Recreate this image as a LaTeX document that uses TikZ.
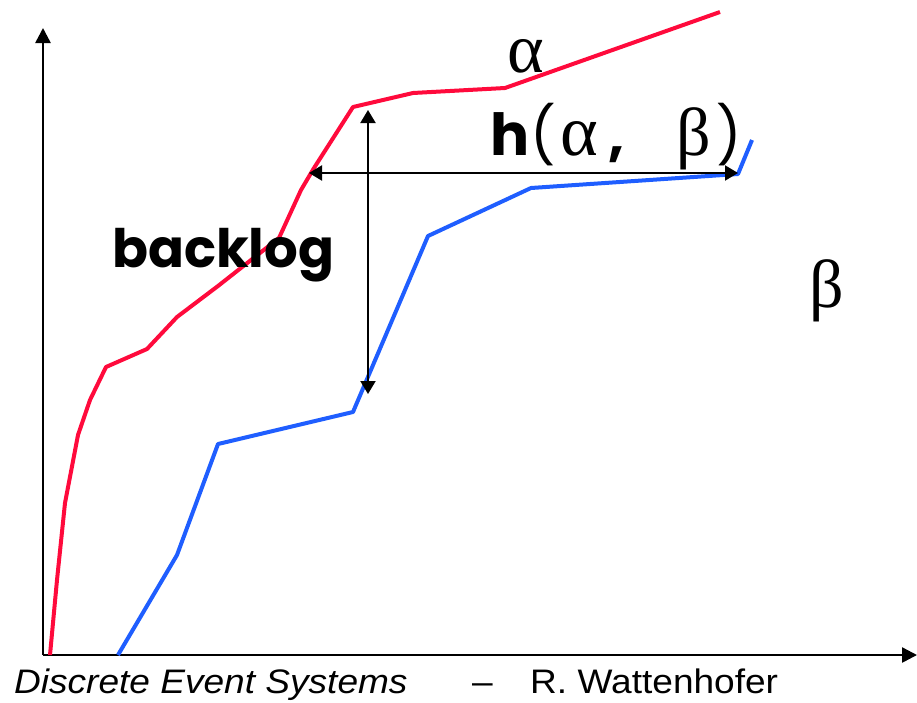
\documentclass[tikz,border=0pt]{standalone}
\usepackage{fontspec}
\setmainfont{Liberation Sans}
\newfontfamily\comicfont{Poppins}
\newfontfamily\greekfont{Liberation Serif}
\usetikzlibrary{arrows.meta}
\definecolor{curvered}{HTML}{FF0A3C}
\definecolor{curveblue}{HTML}{1F5EFF}

\begin{document}
\begin{tikzpicture}[
  x=1pt, y=-1pt,
  axis/.style={line width=2.5pt, -{Triangle[length=15pt,width=15pt]}},
  gap/.style={line width=2pt, {Triangle[length=13pt,width=15pt]}-{Triangle[length=13pt,width=15pt]}},
  curve/.style={line width=4pt, line join=round},
  comic/.style={font=\fontsize{53}{53}\comicfont\bfseries, inner sep=0pt},
  greek/.style={font=\fontsize{68}{68}\greekfont, inner sep=0pt},
  foot/.style={font=\fontsize{34}{34}\selectfont\addfontfeatures{FakeStretch=1.09}, anchor=base west, inner sep=0pt},
]
\useasboundingbox (0,0) rectangle (917,702);

% axes
\coordinate (origin) at (43,655);
\coordinate (ytip) at (43,28);
\coordinate (xtip) at (917,655);
\draw[axis] (origin) -- (ytip);
\draw[axis] (origin) -- (xtip);

% arrival curve
\draw[curve, curvered] (50,655) -- (57,580) -- (65,503) -- (78,435) -- (90,400)
  -- (106,367) -- (147,349) -- (177,317) -- (218,286) -- (279,238) -- (301,190)
  -- (314,168) -- (353,107) -- (413,93) -- (505,88) -- (720,12);

% service curve
\draw[curve, curveblue] (118,655) -- (177,555) -- (218,444) -- (353,412)
  -- (428,236) -- (531,188) -- (738,174) -- (752,140);

% backlog and delay arrows
\coordinate (btop) at (368,110);
\coordinate (bbot) at (368,394);
\coordinate (hleft) at (309,173);
\coordinate (hright) at (738,173);
\draw[gap] (btop) -- (bbot);
\draw[gap] (hleft) -- (hright);

% labels
\node[greek, font=\fontsize{70}{70}\greekfont] (alpha) at (526,56) {α};
\node[greek] (beta) at (827,291) {β};
\node[comic, anchor=base west] (backlog) at (112,267) {backlog};
\node[anchor=base west, inner sep=0pt] (delay) at (490,155)
  {\makebox[40pt][l]{\fontsize{58}{58}\comicfont\bfseries h}%
   \makebox[30pt][l]{\fontsize{56}{56}\comicfont (}%
   \makebox[48pt][l]{\fontsize{72}{72}\greekfont α}%
   \makebox[68pt][l]{\fontsize{56}{56}\comicfont\bfseries ,}%
   \makebox[40pt][l]{\fontsize{68}{68}\greekfont β}%
   {\fontsize{56}{56}\comicfont )}};

% footer
\node[foot] (course) at (14,693) {\itshape Discrete Event Systems};
\node[foot] (dash) at (472,693) {--};
\node[foot] (author) at (530,693) {R. Wattenhofer};
\end{tikzpicture}
\end{document}
